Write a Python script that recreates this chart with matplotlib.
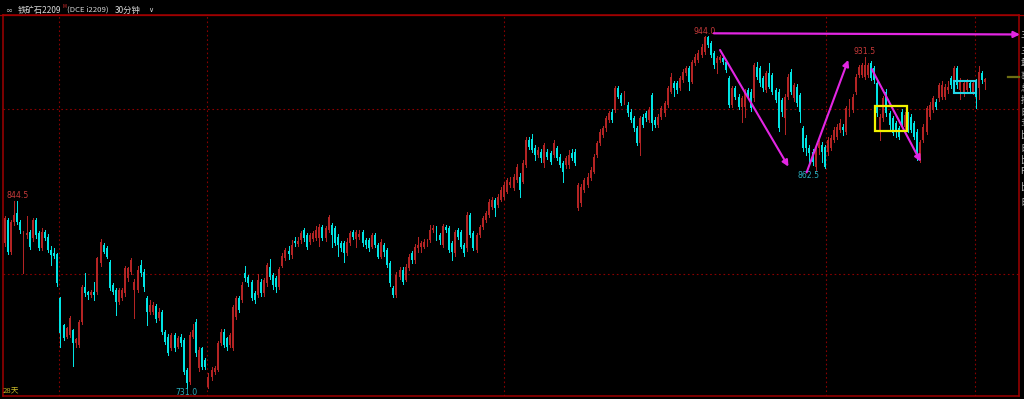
import matplotlib
matplotlib.use("Agg")
import matplotlib.pyplot as plt
from matplotlib.patches import Rectangle

plt.rcParams['font.family'] = ['Noto Sans CJK SC', 'DejaVu Sans']

# 30分钟 K线 (开, 高, 低, 收)
opens = [818.6, 833.0, 813.6, 831.7, 836.8, 831.7, 813.6, 823.7, 825.7, 821.6,
         832.8, 824.7, 815.6, 825.7, 822.7, 814.6, 812.6, 812.0, 785.3, 769.1,
         762.0, 763.1, 766.1, 758.0, 757.0, 771.1, 792.4, 789.3, 787.3, 789.3,
         789.3, 806.5, 817.6, 815.6, 807.5, 793.4, 790.3, 783.3, 785.3, 788.3,
         797.4, 801.4, 790.3, 790.3, 805.5, 801.4, 785.3, 777.2, 777.2, 780.6,
         773.2, 777.2, 765.1, 762.0, 755.0, 763.1, 756.0, 762.0, 760.0, 741.9,
         734.8, 762.0, 771.1, 742.9, 755.0, 747.9, 731.5, 737.8, 740.8, 741.9,
         758.0, 765.1, 761.0, 757.0, 755.0, 774.2, 785.3, 784.3, 800.4, 798.4,
         795.4, 788.3, 787.3, 795.4, 788.4, 794.4, 804.5, 799.4, 797.4, 792.4,
         805.0, 809.5, 814.2, 811.6, 820.3, 818.2, 820.7, 826.7, 823.7, 819.7,
         821.1, 821.7, 821.7, 828.8, 821.7, 826.7, 829.8, 827.7, 822.7, 818.6,
         818.6, 812.6, 818.6, 825.7, 821.5, 822.5, 825.2, 820.7, 820.7, 816.6,
         823.7, 817.6, 810.6, 817.6, 814.6, 806.5, 791.4, 787.4, 798.4, 802.5,
         796.4, 803.5, 812.6, 808.5, 815.6, 816.6, 816.6, 818.6, 820.7, 826.7,
         827.7, 823.7, 817.6, 828.8, 827.7, 818.6, 812.6, 826.7, 825.7, 817.6,
         815.6, 835.8, 824.7, 814.6, 823.7, 828.8, 832.8, 835.8, 840.9, 844.9,
         841.9, 844.9, 847.0, 850.0, 854.0, 852.0, 857.1, 859.1, 856.0, 866.1,
         881.3, 882.0, 876.4, 872.2, 874.2, 867.1, 874.2, 873.2, 872.2, 876.2,
         871.2, 867.1, 866.1, 866.1, 873.2, 874.2, 839.9, 842.9, 851.0, 854.0,
         858.1, 862.1, 872.2, 879.3, 884.3, 888.4, 893.4, 898.5, 899.5, 912.6,
         908.6, 904.5, 902.5, 898.5, 894.4, 888.4, 879.3, 895.4, 897.4, 893.4,
         908.6, 893.4, 890.4, 895.4, 897.4, 902.5, 910.6, 915.6, 915.6, 912.6,
         917.6, 921.7, 924.7, 916.6, 927.7, 929.8, 932.8, 934.8, 943.9, 939.9,
         933.8, 927.7, 929.8, 930.8, 928.8, 918.6, 902.5, 912.6, 907.5, 901.5,
         901.5, 911.6, 910.6, 906.5, 925.7, 924.7, 918.6, 911.6, 921.7, 920.7,
         911.6, 910.6, 905.5, 894.4, 907.5, 922.7, 906.5, 913.6, 908.6, 888.4,
         882.3, 876.2, 874.2, 865.1, 876.2, 878.2, 877.2, 874.2, 876.2, 881.3,
         883.3, 887.3, 889.4, 886.3, 897.4, 899.5, 910.6, 920.7, 920.7, 919.7,
         920.6, 927.7, 924.7, 915.6, 887.3, 894.4, 910.5, 897.4, 894.4, 891.3,
         888.3, 898.4, 889.3, 896.4, 895.4, 891.3, 886.3, 869.1, 881.2, 886.3,
         895.4, 899.4, 904.5, 906.5, 907.5, 907.5, 911.6, 918.6, 912.5, 924.7,
         911.6, 910.6, 911.6, 915.6, 910.6, 916.6, 912.6, 921.7, 916.6]

highs = [835, 834, 832.5, 844, 844.5, 833, 826, 835, 827, 834,
         834, 826, 828, 827, 824, 817, 816, 813, 786, 770,
         768, 774.5, 767, 761.5, 772, 793.5, 800.8, 790, 790.5, 795.4,
         810.5, 821.5, 819, 817, 808.5, 794.5, 791.5, 791.5, 791.5, 805,
         804.5, 810, 797, 805, 808.5, 803, 786.5, 784, 783, 782,
         779.5, 778.5, 766, 763.5, 764.5, 764, 762.5, 763.5, 761, 743,
         765, 770, 773, 755.5, 756, 749, 740, 743.5, 744, 759.5,
         767, 766.5, 762, 764.5, 781.5, 786.5, 786.5, 795, 805, 799.5,
         796.5, 789.5, 800, 797, 797.5, 807, 809, 800.5, 799, 804,
         812.5, 816, 817, 820.7, 822.5, 822.5, 826, 828, 825, 825,
         826, 829, 830.5, 830, 829, 836, 831, 829, 824, 820,
         820, 822, 826, 827, 827, 827, 827, 822, 822, 825,
         825, 819, 821, 819, 816, 808, 793, 801, 804, 804,
         806, 812, 814, 818, 822.5, 820, 821, 821.5, 829.5, 830,
         829, 825, 830.5, 830, 829, 820, 827, 828, 827, 819,
         837.5, 837, 826, 825, 830, 835, 838, 845.5, 846.5, 846,
         848.5, 852.5, 855.5, 858.5, 859, 860.5, 867, 861, 869, 883,
         883, 885, 878, 877, 875.5, 879.5, 876, 874.5, 881, 877.5,
         872.5, 868.5, 871.5, 875, 876, 876, 855, 854.5, 858.5, 861,
         865, 872.5, 880.5, 888, 890, 896, 899, 900, 914, 914,
         910, 911, 904, 900, 896, 890, 896, 897, 899, 901,
         910, 895, 897, 902, 905, 914, 922, 917, 917, 920,
         924.5, 926, 926, 930, 933.5, 935.5, 939.5, 944, 944, 941,
         935, 932, 933, 932, 930, 920, 914, 914, 909, 908,
         912, 913, 912, 928, 928.5, 926, 920, 923, 927.7, 922,
         913, 912, 907, 909, 921, 924, 916, 915, 910, 889.5,
         884, 878, 876, 879, 881, 880, 878.5, 883, 884, 889,
         891, 894, 891, 902, 906, 909, 921, 927, 928, 931.5,
         928, 929, 926, 917, 897, 908, 912, 899, 896, 893,
         890, 900, 898, 898, 897, 893, 888, 881.5, 891, 902,
         904, 908, 906, 916, 917, 915, 917, 920, 926, 926,
         919, 917, 918, 917, 917, 918, 926, 923, 919]

lows = [817, 812, 812, 830, 830.5, 825, 800.5, 822, 815, 820,
        822, 814.5, 814.5, 820.5, 813.5, 805.5, 810, 793, 756, 760,
        761, 762, 744, 756, 756, 770, 787, 785, 786, 784.3,
        788, 805, 812.5, 809.5, 790.3, 788, 775.2, 782, 784, 787,
        796, 800, 773.2, 789, 799, 790, 769.1, 776, 775.5, 771,
        772, 763.5, 757.5, 751, 754, 753.5, 755, 756.5, 739.5, 731,
        733.5, 761, 750.5, 741.5, 742.5, 742.5, 731.2, 736, 739.5, 741,
        757, 755.5, 754, 755.5, 754, 773, 777, 783, 796, 793,
        784, 782.5, 786, 787, 787, 793, 797, 791, 789, 791,
        804, 808.5, 809, 809.5, 817, 817, 819, 820, 815, 818,
        820, 820.5, 817, 820.5, 820, 825.5, 816.6, 817.5, 811, 814,
        807.5, 811.5, 817.5, 821, 816.6, 821.5, 817, 816, 814, 815.5,
        816.5, 809.5, 809.5, 811, 804.5, 793, 786, 786.3, 797, 794,
        795.5, 802.5, 807, 807, 813.5, 813.5, 815.5, 817, 819.5, 825.5,
        820.5, 818, 816.5, 825.5, 813.5, 808.5, 811, 821, 815.5, 811,
        814, 822.5, 814.5, 813.5, 822.5, 827.5, 831.5, 834.5, 839.5, 834.9,
        840.5, 844, 845.5, 849, 853, 851, 856, 846.9, 855, 865,
        876, 874, 869, 871, 868, 865, 870, 867, 871, 869,
        865, 856, 864, 864, 869, 866, 838.9, 841.5, 850, 853,
        857, 861, 871, 878, 883, 887, 892, 892, 898.5, 906.5,
        902.5, 903, 896, 892, 887, 878, 872.2, 889, 893, 892,
        887.3, 889, 889, 894, 896, 901.5, 909.5, 908, 910, 911.5,
        916.5, 920.5, 911.6, 915.5, 926.5, 928.5, 931.5, 933.5, 937.5, 931.5,
        925, 922, 928.5, 927.5, 922.5, 901, 901.5, 906, 900, 892.4,
        895, 906, 899, 905, 918.5, 914, 911, 910.5, 912.5, 909,
        904, 887, 896, 885, 906, 909, 905, 902, 892, 874.5,
        872, 866, 866, 862.5, 873, 868, 864, 872, 875, 880,
        882, 886, 884.5, 885, 896, 898.5, 909, 919.5, 919.5, 918.5,
        919.5, 917.5, 915.5, 896, 881.2, 893, 896, 887, 884, 883,
        882, 889, 888, 886, 886, 882, 869, 868, 880, 885,
        894, 898, 900, 905, 906, 906, 910, 913, 911, 913,
        906, 908, 910, 911, 909, 900.5, 906, 916, 912]

closes = [833.8, 813.6, 831.7, 835.8, 831.7, 826.7, 824.7, 824.7, 816.6, 832.8,
          823.7, 815.6, 825.7, 821.6, 814.6, 811.5, 811.0, 794.4, 764.1, 761.0,
          767.1, 773.2, 758.0, 760.4, 771.1, 792.4, 788.3, 787.3, 789.3, 787.3,
          809.5, 819.6, 813.6, 810.5, 791.3, 789.3, 783.3, 790.3, 790.3, 803.5,
          803.5, 808.5, 795.4, 802.5, 800.4, 792.4, 777.2, 781.2, 781.2, 772.6,
          777.2, 765.1, 759.0, 752.4, 763.1, 755.0, 761.0, 758.0, 740.8, 733.8,
          763.1, 766.1, 751.9, 754.0, 743.9, 743.9, 737.8, 741.9, 742.9, 758.0,
          765.1, 757.0, 756.0, 763.1, 780.2, 785.3, 778.2, 793.4, 797.4, 794.4,
          785.3, 784.3, 796.4, 788.4, 796.4, 805.5, 798.4, 793.4, 792.4, 802.9,
          811.0, 814.6, 812.0, 817.6, 818.6, 820.3, 824.7, 821.7, 816.6, 823.7,
          824.7, 826.7, 828.8, 821.7, 827.7, 834.8, 823.7, 818.6, 817.6, 815.6,
          812.6, 819.6, 824.7, 822.7, 825.2, 824.0, 818.6, 817.6, 815.6, 823.7,
          817.6, 810.6, 819.6, 813.6, 805.5, 794.4, 787.4, 799.4, 802.5, 795.4,
          804.5, 810.6, 808.5, 816.6, 817.6, 818.6, 819.6, 819.0, 826.7, 828.2,
          821.7, 820.7, 829.2, 826.7, 814.6, 813.6, 825.7, 822.7, 816.6, 812.6,
          835.8, 823.7, 815.6, 823.7, 828.8, 833.8, 836.8, 843.9, 844.9, 839.9,
          846.9, 851.0, 854.0, 857.0, 856.0, 859.1, 865.1, 851.0, 867.1, 881.3,
          877.2, 875.2, 872.2, 875.2, 870.2, 878.2, 871.2, 868.2, 879.3, 870.2,
          866.1, 862.1, 870.2, 872.2, 870.2, 867.1, 854.0, 853.0, 857.1, 859.1,
          863.1, 871.2, 879.3, 886.3, 888.4, 894.4, 897.4, 893.4, 912.6, 907.5,
          903.5, 909.6, 897.4, 893.4, 888.4, 879.3, 894.4, 890.4, 894.4, 899.5,
          891.4, 890.4, 895.4, 900.5, 903.5, 912.6, 919.7, 912.6, 911.6, 918.6,
          922.7, 924.7, 916.6, 928.8, 931.8, 933.8, 937.8, 943.9, 938.9, 932.8,
          926.7, 930.8, 931.8, 928.8, 923.7, 902.5, 912.6, 907.5, 901.5, 906.5,
          910.6, 907.5, 900.5, 926.7, 919.7, 915.6, 912.6, 921.7, 913.6, 910.6,
          905.5, 888.4, 898.4, 907.5, 919.7, 910.6, 914.6, 903.5, 898.4, 876.2,
          876.2, 873.2, 868.2, 877.2, 879.2, 874.2, 865.1, 881.3, 882.3, 887.3,
          889.4, 891.4, 887.3, 900.5, 904.5, 907.5, 919.7, 925.7, 926.7, 926.7,
          926.7, 918.6, 917.6, 897.5, 895.4, 906.5, 897.4, 890.3, 885.3, 887.3,
          883.3, 890.3, 896.4, 887.3, 887.3, 883.3, 870.1, 880.2, 889.3, 900.4,
          902.4, 906.5, 901.4, 914.6, 914.6, 913.6, 913.6, 914.6, 924.7, 914.6,
          917.7, 915.6, 916.6, 912.6, 915.6, 907.5, 922.6, 917.6, 918.0]

assert len(opens) == len(highs) == len(lows) == len(closes)

# 日期分隔线 (K线序号) 和价格网格线
day_breaks = [17.5, 65.5, 162.0, 266.5, 314.6]
grid_prices = [800, 900]

# 高低点标注: (位置, 价格, 文字, 类型)
extreme_labels = [(4, 844.5, '844.5', 'hi'), (59, 731.0, '731.0', 'lo'),
                  (227, 944.0, '944.0', 'hi'), (260.6, 862.5, '862.5', 'lo'),
                  (279, 931.5, '931.5', 'hi')]

# 画线工具: 箭头, 射线, 方框
arrows = [((232.0, 935.8), (254.2, 865.1)),
          ((260.1, 861.6), (273.6, 929.8)),
          ((281.2, 924.3), (297.1, 868.1))]
ray = ((230.0, 945.9), (329.3, 945.2))
yellow_box = (282.3, 886.7, 10.4, 15.2)
cyan_box = (307.9, 909.6, 7.2, 7.6)

# 标题栏
title_parts = [('铁矿石2209', '#d8d8d8', 6.0), ('M', '#e03030', 3.4),
               ('(DCE i2209)', '#d8d8d8', 5.6), ('30分钟', '#d8d8d8', 6.0)]

UP = '#b42424'
DOWN = '#00e4e4'
GRID = '#8a0000'
MAGENTA = '#e326e3'

W, H = 1024, 399
fig = plt.figure(figsize=(W / 100, H / 100), dpi=100, facecolor='black')
ax = fig.add_axes([3 / W, 3 / H, 1016 / W, 381 / H])
ax.set_facecolor('black')

n = len(closes)
xs = list(range(n))
cols = [UP if c >= o else DOWN for o, c in zip(opens, closes)]

ax.vlines(xs, lows, highs, colors=cols, linewidth=0.6, antialiased=False, zorder=3)
bottoms = [min(o, c) for o, c in zip(opens, closes)]
heights = [max(abs(c - o), 0.5) for o, c in zip(opens, closes)]
ax.bar(xs, heights, bottom=bottoms, width=0.64, color=cols, linewidth=0,
       antialiased=True, zorder=4)

for p in grid_prices:
    ax.axhline(p, color=GRID, lw=0.8, ls=(0, (1.5, 2.5)), zorder=1)
for b in day_breaks:
    ax.axvline(b, color=GRID, lw=0.8, ls=(0, (1.5, 2.5)), zorder=1)

ax.set_xlim(-0.65, 329.0)
ax.set_ylim(726.1, 957.0)
ax.set_xticks([])
ax.set_yticks([])
for s in ax.spines.values():
    s.set_color('#a00000')
    s.set_linewidth(1.1)

for x, p, t, kind in extreme_labels:
    if kind == 'hi':
        ax.annotate(t, (x, p), xytext=(0, 0.6), textcoords='offset points',
                    ha='center', va='bottom', fontsize=5.6, color='#c83a3a',
                    family='DejaVu Sans', zorder=6)
    else:
        ax.annotate(t, (x, p), xytext=(0, -0.2), textcoords='offset points',
                    ha='center', va='top', fontsize=5.6, color='#2aaebd',
                    family='DejaVu Sans', zorder=6, annotation_clip=False)

# 紫色画线
for a, b in arrows:
    ax.annotate('', xy=b, xytext=a, zorder=7,
                arrowprops=dict(arrowstyle='-|>', color=MAGENTA, lw=1.5,
                                mutation_scale=9, shrinkA=0, shrinkB=0))
ax.annotate('', xy=ray[1], xytext=ray[0], zorder=7, annotation_clip=False,
            arrowprops=dict(arrowstyle='-|>', color=MAGENTA, lw=1.6,
                            mutation_scale=9, shrinkA=0, shrinkB=0))

bx, by, bw, bh = yellow_box
ax.add_patch(Rectangle((bx, by), bw, bh, fill=False, edgecolor='#f2f200', lw=1.6, zorder=8))
bx, by, bw, bh = cyan_box
ax.add_patch(Rectangle((bx, by), bw, bh, fill=False, edgecolor='#22d6e6', lw=1.5, zorder=8))

# 右侧最新价小标记
ax.plot([325.4, 329.0], [919.6, 919.6], color='#6e6e12', lw=1.6, clip_on=False, zorder=5)

# 顶部标题栏, 各段依次排开
ty = 1 - 10 / H
fig.text(5 / W, ty, '∞', color='#b0b0b0', fontsize=6, va='center', family='DejaVu Sans')
renderer = fig.canvas.get_renderer()
x0 = 18
for txt, c, fs in title_parts:
    yy = 1 - 7 / H if txt == 'M' else ty
    t = fig.text(x0 / W, yy, txt, color=c, fontsize=fs, va='center')
    bb = t.get_window_extent(renderer)
    x0 = bb.x1 + (1 if txt in ('铁矿石2209', 'M') else 6)
fig.text((x0 + 1) / W, ty, '∨', color='#d8d8d8', fontsize=5, va='center', family='DejaVu Sans')
fig.add_artist(plt.Line2D([0, 1], [1 - 15 / H, 1 - 15 / H], color='#a00000', lw=0.9))

fig.text(3 / W, 1 - 390 / H, '28天', color='#c8b828', fontsize=5.6, va='center')

# 右侧被截断的文字
side_chars = ['三', '三', '量', '事', '总', '持', '日', '多', '比', '日', '比', 'F', '比', '日']
side_y = [35, 52, 63, 77, 88, 100, 112, 123, 135, 148, 160, 172, 187, 202]
for ch, yy in zip(side_chars, side_y):
    fig.text(1020.5 / W, 1 - yy / H, ch, color='#c0c0c0', fontsize=6.5, va='center')

fig.savefig('out.png', dpi=100, facecolor='black')
